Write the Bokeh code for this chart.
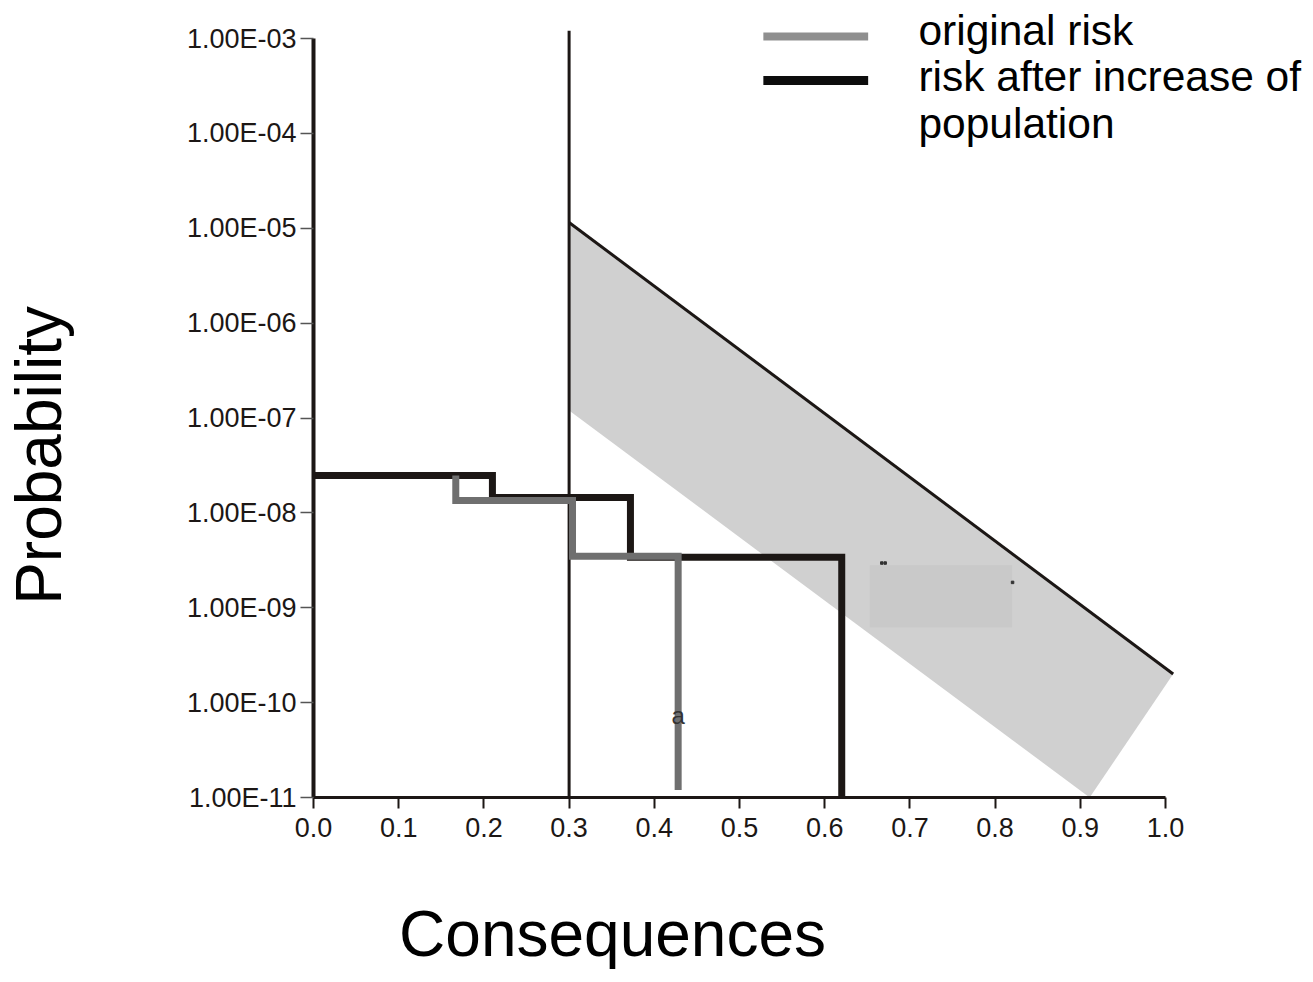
from bokeh.plotting import figure
from bokeh.models import Range1d, FixedTicker, CustomJSTickFormatter
from bokeh.core.properties import value
from bokeh.embed import file_html
from bokeh.resources import INLINE

FONT = "Liberation Sans"

# ---- axis ticks ----
x_ticks = [0.0, 0.1, 0.2, 0.3, 0.4, 0.5, 0.6, 0.7, 0.8, 0.9, 1.0]
x_tick_labels = ["0.0", "0.1", "0.2", "0.3", "0.4", "0.5", "0.6", "0.7", "0.8", "0.9", "1.0"]
y_ticks = [1e-11, 1e-10, 1e-9, 1e-8, 1e-7, 1e-6, 1e-5, 1e-4, 1e-3]
y_tick_labels = ["1.00E-11", "1.00E-10", "1.00E-09", "1.00E-08", "1.00E-07",
                 "1.00E-06", "1.00E-05", "1.00E-04", "1.00E-03"]

# ---- risk curves: start consequence, step consequences, probability levels ----
orig_start = 0.167
orig_cons = [0.167, 0.304, 0.428]
orig_prob = [2.48e-8, 1.35e-8, 3.5e-9, 1.2e-11]
after_start = 0.0
after_cons = [0.21, 0.372, 0.62]
after_prob = [2.48e-8, 1.45e-8, 3.4e-9, 1.0e-11]

# ---- tolerability band ----
band_cons = [0.3, 1.009, 0.911, 0.3]
band_prob = [1.15e-5, 2.0e-10, 1.0e-11, 1.2e-7]
upper_cons = [0.3, 1.009]
upper_prob = [1.15e-5, 2.0e-10]
limit_cons = [0.3, 0.3]
limit_prob = [1.0e-11, 1.21e-3]

# ---- lighter box inside the band and stray marks ----
box_cons = [0.653, 0.820]
box_prob = [6.2e-10, 2.8e-9]
dot_cons = [0.667, 0.671, 0.8205]
dot_prob = [2.96e-9, 2.96e-9, 1.85e-9]
note_text = ["a"]
note_cons = [0.428]
note_prob = [7.3e-11]

# ---- legend ----
legend_labels = ["original risk", "risk after increase of", "population"]
legend_prob = [1.214e-3, 3.98e-4, 1.27e-4]
legend_text_cons = 0.710
legend_line_cons = [0.528, 0.651]
legend_line_prob = [1.05e-3, 3.61e-4]

# ---- axis titles ----
x_title = "Consequences"
y_title = "Probability"
x_title_pos = (0.351, 3.6e-13)
y_title_pos = (-0.3216, 4.03e-8)


def staircase(start, cons, prob):
    xs, ys = [start], [prob[0]]
    for i, c in enumerate(cons):
        xs += [c, c]
        ys += [prob[i], prob[i + 1]]
    return xs, ys


# frame spans the whole canvas; axes are pinned with fixed_location
p = figure(width=1305, height=974,
           x_range=Range1d(-313 / 852, (1305 - 313) / 852),
           y_range=Range1d(10 ** (-3 - (974 - 38) / 94.875), 10 ** (-3 + 38 / 94.875)),
           y_axis_type="log", output_backend="svg", toolbar_location=None,
           min_border=0)
p.outline_line_color = None
p.xgrid.visible = False
p.ygrid.visible = False
p.background_fill_color = "white"
p.border_fill_color = "white"

# band
p.patch(band_cons, band_prob, fill_color="#d0d0d0", line_color=None)
p.quad(left=[box_cons[0]], right=[box_cons[1]], bottom=[box_prob[0]], top=[box_prob[1]],
       fill_color="#c9c9c9", line_color=None)
p.scatter(dot_cons, dot_prob, marker="square", size=2.5, color="#333333")
p.line(upper_cons, upper_prob, line_color="#1c1715", line_width=3)
p.line(limit_cons, limit_prob, line_color="#1c1715", line_width=3)

# curves
ax, ay = staircase(after_start, after_cons, after_prob)
p.line(ax, ay, line_color="#1c1715", line_width=7, line_join="miter")
ox, oy = staircase(orig_start, orig_cons, orig_prob)
p.line(ox, oy, line_color="#6f6f6f", line_width=7, line_join="miter")

p.text(note_cons, note_prob, text=note_text, text_font=value(FONT),
       text_font_size="24px", text_color="#333333", text_align="center",
       text_baseline="middle")

# legend (drawn by hand)
p.line(legend_line_cons, [legend_line_prob[0]] * 2, line_color="#8f8f8f", line_width=8)
p.line(legend_line_cons, [legend_line_prob[1]] * 2, line_color="#0d0d0d", line_width=9)
p.text([legend_text_cons] * 3, legend_prob, text=legend_labels, text_font=value(FONT),
       text_font_size="42.5px", text_color="black", text_align="left",
       text_baseline="alphabetic")

# axis titles
p.text([y_title_pos[0]], [y_title_pos[1]], text=[y_title], angle=1.5707963,
       text_font=value(FONT), text_font_size="64px", text_color="black",
       text_align="center", text_baseline="alphabetic")
p.text([x_title_pos[0]], [x_title_pos[1]], text=[x_title], text_font=value(FONT),
       text_font_size="64px", text_color="black", text_align="center",
       text_baseline="alphabetic")

# axes
p.xaxis.fixed_location = 1e-11
p.yaxis.fixed_location = 0.0
p.xaxis.ticker = FixedTicker(ticks=x_ticks)
p.xaxis.formatter = CustomJSTickFormatter(args=dict(v=x_ticks, l=x_tick_labels), code="""
let b = 0, d = Infinity;
for (let i = 0; i < v.length; i++) { const e = Math.abs(tick - v[i]); if (e < d) { d = e; b = i; } }
return l[b];
""")
p.yaxis.ticker = FixedTicker(ticks=y_ticks)
p.yaxis.formatter = CustomJSTickFormatter(args=dict(v=y_ticks, l=y_tick_labels), code="""
let b = 0, d = Infinity;
for (let i = 0; i < v.length; i++) { const e = Math.abs(Math.log10(tick) - Math.log10(v[i])); if (e < d) { d = e; b = i; } }
return l[b];
""")
p.xaxis.bounds = (0, 1)
p.yaxis.bounds = (1e-11, 1e-3)
for ax_ in (p.xaxis, p.yaxis):
    ax_.axis_line_color = "#1c1715"
    ax_.major_tick_in = 0
    ax_.minor_tick_line_color = None
    ax_.major_label_text_font = FONT
    ax_.major_label_text_color = "#1c1715"
p.xaxis.axis_line_width = 3
p.yaxis.axis_line_width = 4
p.xaxis.major_tick_out = 11
p.yaxis.major_tick_out = 13
p.xaxis.major_tick_line_width = 2
p.yaxis.major_tick_line_width = 1.5
p.xaxis.major_tick_line_color = "#1c1715"
p.yaxis.major_tick_line_color = "#555555"
p.xaxis.major_label_text_font_size = "27px"
p.yaxis.major_label_text_font_size = "27px"
p.xaxis.major_label_standoff = 9
p.yaxis.major_label_standoff = 4

open("out.html", "w").write(file_html(p, INLINE))
